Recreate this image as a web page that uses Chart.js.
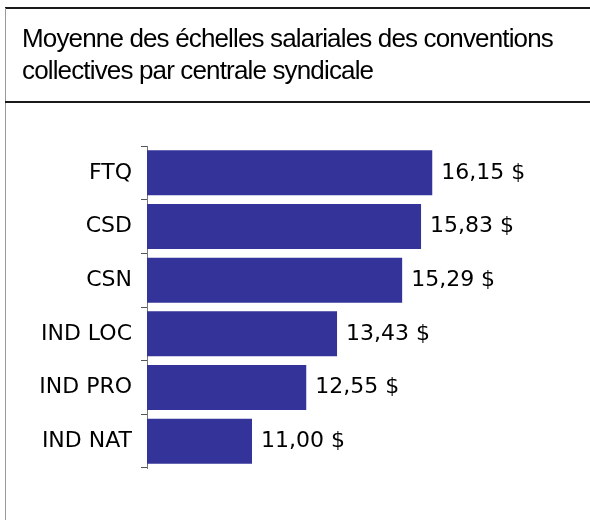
<!DOCTYPE html>
<html>
<head>
<meta charset="utf-8">
<script src="https://cdn.jsdelivr.net/npm/chart.js@4/dist/chart.umd.min.js"></script>
<style>
html,body{margin:0;padding:0;background:#fff;}
#wrap{position:relative;width:590px;height:520px;overflow:hidden;}
#c{position:absolute;left:0;top:0;}
#topline{position:absolute;left:5px;top:7px;width:585px;height:2px;background:#1a1a1a;}
#leftline{position:absolute;left:5px;top:8px;width:1px;height:512px;background:#999;}
#titleline{position:absolute;left:5px;top:101px;width:585px;height:2px;background:#1a1a1a;}
#title{position:absolute;left:22px;top:21.5px;font-family:"Liberation Sans",Arial,sans-serif;font-size:26px;line-height:32.5px;letter-spacing:-0.85px;color:#000;white-space:nowrap;}
</style>
</head>
<body>
<div id="wrap">
<canvas id="c" width="590" height="520"></canvas>
<div id="topline"></div>
<div id="leftline"></div>
<div id="titleline"></div>
<div id="title">Moyenne des échelles salariales des conventions<br>collectives par centrale syndicale</div>
</div>
<script>
const categories = ["FTQ", "CSD", "CSN", "IND LOC", "IND PRO", "IND NAT"];
const values = [16.15, 15.83, 15.29, 13.43, 12.55, 11.00];
const valueLabels = ["16,15 $", "15,83 $", "15,29 $", "13,43 $", "12,55 $", "11,00 $"];

const LABEL_FONT = "'DejaVu Sans', sans-serif";

const barLabelPlugin = {
  id: 'barLabels',
  afterDatasetsDraw(chart) {
    const ctx = chart.ctx;
    const meta = chart.getDatasetMeta(0);
    ctx.save();
    ctx.font = '22px ' + LABEL_FONT;
    ctx.fillStyle = '#000';
    ctx.textAlign = 'left';
    ctx.textBaseline = 'middle';
    meta.data.forEach((bar, i) => {
      ctx.fillText(valueLabels[i], bar.x + 9, bar.y);
    });
    ctx.restore();
  }
};

new Chart(document.getElementById('c'), {
  type: 'bar',
  data: {
    labels: categories,
    datasets: [{
      data: values,
      backgroundColor: '#333399',
      borderWidth: 0,
      categoryPercentage: 1,
      barPercentage: 0.84
    }]
  },
  options: {
    indexAxis: 'y',
    responsive: false,
    animation: false,
    devicePixelRatio: 1,
    layout: { padding: { left: 0, top: 146, bottom: 52, right: 93 } },
    plugins: { legend: { display: false }, tooltip: { enabled: false }, title: { display: false } },
    scales: {
      x: { display: false, min: 8, max: 18 },
      y: {
        afterFit(scale) { scale.width = 147; },
        grid: { display: true, drawOnChartArea: false, tickLength: 6, color: '#555', offset: true },
        border: { display: true, color: '#777', width: 1 },
        ticks: { font: { family: LABEL_FONT, size: 22 }, color: '#000', padding: 9 }
      }
    }
  },
  plugins: [barLabelPlugin]
});
</script>
</body>
</html>
